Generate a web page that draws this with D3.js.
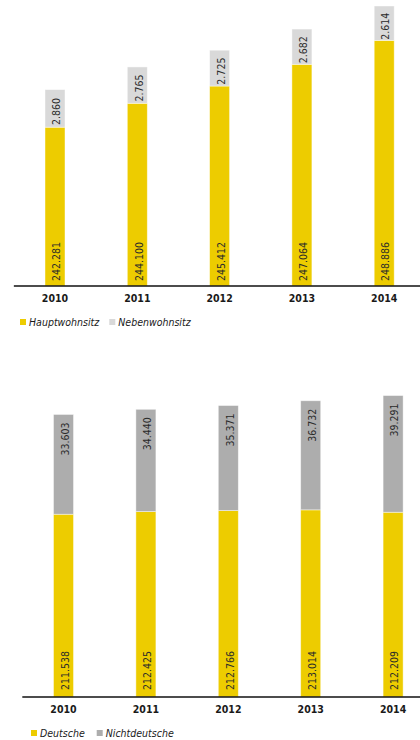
<!DOCTYPE html>
<html><head><meta charset="utf-8">
<script src="https://cdn.jsdelivr.net/npm/d3@7"></script>
<style>
html,body{margin:0;padding:0;background:#fff;}
svg{display:block;}
</style>
</head><body>
<svg id="c" width="420" height="740"></svg>
<script>
const years = ["2010", "2011", "2012", "2013", "2014"];
const hauptwohnsitz = [242281, 244100, 245412, 247064, 248886];
const nebenwohnsitz = [2860, 2765, 2725, 2682, 2614];
const deutsche = [211538, 212425, 212766, 213014, 212209];
const nichtdeutsche = [33603, 34440, 35371, 36732, 39291];
const legendTop = ["Hauptwohnsitz", "Nebenwohnsitz"];
const legendBottom = ["Deutsche", "Nichtdeutsche"];

const YELLOW = "#edcc00";
const GRAY_LIGHT = "#d9d9d9";
const GRAY_DARK = "#adadad";
const labelFont = "'DejaVu Sans Condensed','DejaVu Sans',sans-serif";

const de = d3.formatLocale({decimal: ",", thousands: ".", grouping: [3], currency: ["", " €"]});
const fmt = de.format(",d");

const svg = d3.select("#c");

function drawChart(cfg) {
  const g = svg.append("g");
  const x = d3.scaleBand().domain(years).range(cfg.xRange).paddingInner(0.757).paddingOuter(0.3785);
  const y = d3.scaleLinear().domain(cfg.yDomain).range(cfg.yRange);
  const base = cfg.yRange[0];
  const bw = x.bandwidth();

  // lower (yellow) bars
  g.selectAll("rect.lo").data(years).join("rect")
    .attr("x", d => x(d)).attr("width", bw)
    .attr("y", (d, i) => y(cfg.lower[i]))
    .attr("height", (d, i) => base - y(cfg.lower[i]))
    .attr("fill", YELLOW)
    .attr("stroke", "rgba(255,255,255,0.55)").attr("stroke-width", 0.8);

  // upper bars
  g.selectAll("rect.up").data(years).join("rect")
    .attr("x", d => x(d)).attr("width", bw)
    .attr("y", (d, i) => y(cfg.lower[i] + cfg.upper[i]))
    .attr("height", (d, i) => y(cfg.lower[i]) - y(cfg.lower[i] + cfg.upper[i]))
    .attr("fill", cfg.upperColor)
    .attr("stroke", "rgba(255,255,255,0.55)").attr("stroke-width", 0.8);

  // lower labels
  g.selectAll("text.lo").data(years).join("text")
    .attr("transform", d => `translate(${x(d) + bw / 2 + 1.5},${base - cfg.loOffset}) rotate(-90)`)
    .attr("dy", "0.36em")
    .attr("text-anchor", "start")
    .attr("font-family", labelFont).attr("font-size", "10.5px").attr("fill", "#2a2a2a")
    .text((d, i) => fmt(cfg.lower[i]));

  // upper labels
  g.selectAll("text.up").data(years).join("text")
    .attr("transform", (d, i) => {
      const yTop = y(cfg.lower[i] + cfg.upper[i]);
      const yBot = y(cfg.lower[i]);
      const yy = cfg.upMode === "center" ? (yTop + yBot) / 2 + 3 : yTop + 8;
      return `translate(${x(d) + bw / 2 + 1.5},${yy}) rotate(-90)`;
    })
    .attr("dy", "0.36em")
    .attr("text-anchor", cfg.upMode === "center" ? "middle" : "end")
    .attr("font-family", labelFont).attr("font-size", "10.5px").attr("fill", "#2a2a2a")
    .text((d, i) => fmt(cfg.upper[i]));

  // axis
  const ax = g.append("g").attr("transform", `translate(0,${base})`)
    .call(d3.axisBottom(x).tickSize(0).tickPadding(9));
  ax.select(".domain").remove();
  g.append("line")
    .attr("x1", cfg.xRange[0]).attr("x2", 420)
    .attr("y1", base).attr("y2", base)
    .attr("stroke", "#111").attr("stroke-width", 1.6);
  ax.selectAll("text")
    .attr("font-family", labelFont).attr("font-size", "10.5px")
    .attr("font-weight", "bold").attr("fill", "#1a1a1a");

  // legend
  const lg = g.append("g").attr("transform", `translate(${cfg.legendX},${cfg.legendY})`);
  const items = [{t: cfg.legend[0], c: YELLOW}, {t: cfg.legend[1], c: cfg.upperColor}];
  let cx = 0;
  items.forEach((it, k) => {
    lg.append("rect").attr("x", cx).attr("y", -3).attr("width", 6).attr("height", 6).attr("fill", it.c);
    const t = lg.append("text").attr("x", cx + 9).attr("y", 0).attr("dy", "0.35em")
      .attr("font-family", labelFont).attr("font-size", "10.5px")
      .attr("font-style", "italic").attr("fill", "#1a1a1a").text(it.t);
    cx = cx + 9 + t.node().getComputedTextLength() + cfg.legendGap;
  });
}

drawChart({
  xRange: [13.85, 425.35],
  yDomain: [230200, 251500],
  yRange: [286, 6],
  lower: hauptwohnsitz,
  upper: nebenwohnsitz,
  upperColor: GRAY_LIGHT,
  upMode: "center",
  loOffset: 5,
  legend: legendTop,
  legendX: 20, legendY: 322, legendGap: 10
});

drawChart({
  xRange: [22.3, 434.3],
  yDomain: [150000, 250000],
  yRange: [697, 400],
  lower: deutsche,
  upper: nichtdeutsche,
  upperColor: GRAY_DARK,
  upMode: "top",
  loOffset: 7,
  legend: legendBottom,
  legendX: 31, legendY: 733, legendGap: 12
});
</script>
</body></html>
